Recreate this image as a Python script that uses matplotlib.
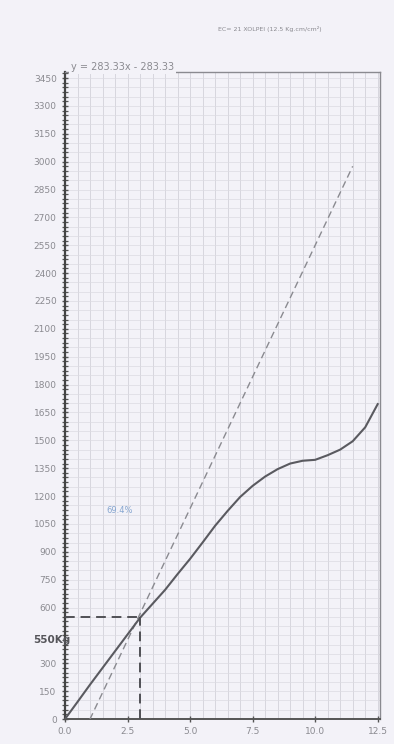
import matplotlib
matplotlib.use("Agg")
import matplotlib.pyplot as plt
from matplotlib.ticker import MultipleLocator
import numpy as np

# ---- data ----
curve_x = [0, 0.5, 1.0, 1.5, 2.0, 2.5, 3.0, 3.5, 4.0, 4.5, 5.0, 5.5, 6.0, 6.5,
           7.0, 7.5, 8.0, 8.5, 9.0, 9.5, 10.0, 10.5, 11.0, 11.5, 12.0, 12.5]
curve_y = [0, 92, 185, 275, 365, 455, 545, 620, 695, 780, 862, 950, 1040, 1120,
           1195, 1255, 1305, 1345, 1375, 1390, 1395, 1420, 1450, 1495, 1570, 1695]

fit_slope = 283.33
fit_intercept = -283.33
fit_x = [0.8, 11.5]

mark_x = 3.0
mark_y = 550

y_ticks = [0, 150, 300, 450, 600, 750, 900, 1050, 1200, 1350, 1500, 1650, 1800,
           1950, 2100, 2250, 2400, 2550, 2700, 2850, 3000, 3150, 3300, 3450]
y_tick_labels = ["0", "150", "300", "", "600", "750", "900", "1050", "1200", "1350",
                 "1500", "1650", "1800", "1950", "2100", "2250", "2400", "2550",
                 "2700", "2850", "3000", "3150", "3300", "3450"]
x_ticks = [0.0, 2.5, 5.0, 7.5, 10.0, 12.5]
x_tick_labels = ["0.0", "2.5", "5.0", "7.5", "10.0", "12.5"]

title_text = "EC= 21 XOLPEI (12.5 Kg.cm/cm²)"
eq_text = "y = 283.33x - 283.33"
pct_text = "69.4%"
kg_text = "550Kg"

bg = "#f3f2f8"
fig = plt.figure(figsize=(3.94, 7.44), dpi=100, facecolor=bg)
ax = fig.add_axes([0.165, 0.0336, 0.8, 0.869], facecolor=bg)

ax.set_xlim(0, 12.6)
ax.set_ylim(0, 3480)

# grid
ax.xaxis.set_minor_locator(MultipleLocator(0.5))
ax.yaxis.set_minor_locator(MultipleLocator(25))
ax.set_xticks(x_ticks)
ax.set_xticklabels(x_tick_labels)
ax.set_yticks(y_ticks)
ax.set_yticklabels(y_tick_labels)
for gx in np.arange(0.5, 12.6, 0.5):
    ax.axvline(gx, color="#d2d1d9", lw=0.6, zorder=0)
for gy in np.arange(50, 3480, 50):
    ax.axhline(gy, color="#dcdbe2", lw=0.5, zorder=0)

ax.tick_params(axis="both", which="major", labelsize=6.5, labelcolor="#8a8a90",
               color="#555555", direction="inout", length=5, width=1)
ax.tick_params(axis="y", which="minor", direction="inout", length=4, width=0.9, color="#555555")
ax.tick_params(axis="x", which="minor", length=0)

for s in ["top", "right"]:
    ax.spines[s].set_color("#8a8a90")
    ax.spines[s].set_linewidth(1.0)
ax.spines["left"].set_color("#444444")
ax.spines["left"].set_linewidth(1.6)
ax.spines["bottom"].set_color("#555555")
ax.spines["bottom"].set_linewidth(1.4)

# fit line (dashed)
fx = np.array(fit_x)
ax.plot(fx, fit_slope * fx + fit_intercept, color="#8a8a90", lw=1.0,
        linestyle=(0, (5, 3)), zorder=3)

# main curve
ax.plot(curve_x, curve_y, color="#5a5a60", lw=1.5, zorder=4)

# dashed guide lines
ax.plot([0, mark_x], [mark_y, mark_y], color="#505055", lw=1.4,
        linestyle=(0, (5, 3)), zorder=5)
ax.plot([mark_x, mark_x], [0, mark_y], color="#505055", lw=1.4,
        linestyle=(0, (5, 3)), zorder=5)

# texts
ax.text(2.2, 1120, pct_text, color="#86a6d0", fontsize=6, ha="center", va="center")
fig.text(0.085, 1 - 640 / 744, kg_text, color="#55555a", fontsize=7.5,
         fontweight="bold", ha="left", va="center")
fig.text(0.685, 1 - 29 / 744, title_text, color="#8a8a90", fontsize=4.5,
         ha="center", va="center")
fig.text(0.18, 1 - 67 / 744, eq_text, color="#8a8a90", fontsize=7,
         ha="left", va="center",
         bbox=dict(facecolor=bg, edgecolor="none", pad=1.5))

fig.savefig("out.png", dpi=100, facecolor=bg)
